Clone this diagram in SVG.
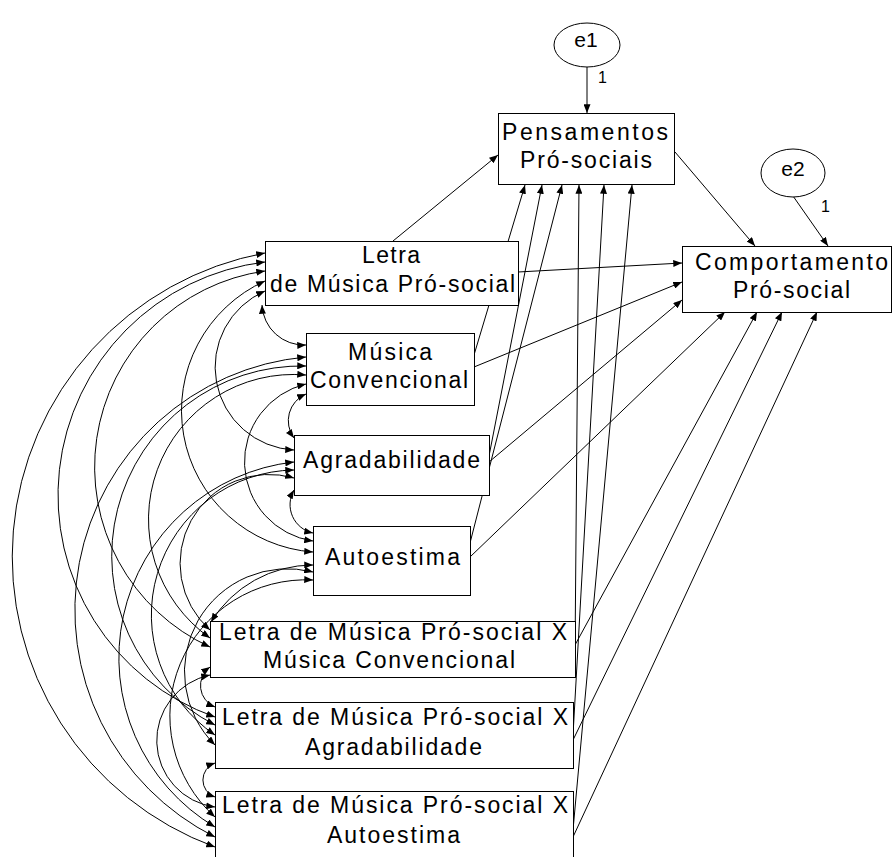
<svg xmlns="http://www.w3.org/2000/svg" width="892" height="857" viewBox="0 0 892 857">
<style>
.b{fill:#fff;stroke:#000;stroke-width:1}
.l{fill:none;stroke:#000;stroke-width:1}
.t{font-family:"Liberation Sans",Arial,sans-serif;font-size:23px;fill:#000}
.e{font-family:"Liberation Sans",Arial,sans-serif;font-size:21px;fill:#000;text-anchor:middle}
.s{font-family:"Liberation Sans",Arial,sans-serif;font-size:16px;fill:#000}
</style>
<defs>
<marker id="ah" viewBox="0 0 10 8" refX="10" refY="4" markerWidth="9" markerHeight="7" markerUnits="userSpaceOnUse" orient="auto-start-reverse"><path d="M0,0 L10,4 L0,8 z" fill="#000"/></marker>
</defs>
<rect width="892" height="857" fill="#fff"/>
<g id="connectors">
<g class="cov">
<path class="l" d="M265,253 A309,309 0 0 0 215,847" marker-start="url(#ah)" marker-end="url(#ah)"/>
<path class="l" d="M265,262 A235,235 0 0 0 215,717" marker-start="url(#ah)" marker-end="url(#ah)"/>
<path class="l" d="M265,271 A198,198 0 0 0 210,647" marker-start="url(#ah)" marker-end="url(#ah)"/>
<path class="l" d="M265,281 A142,142 0 0 0 313,552" marker-start="url(#ah)" marker-end="url(#ah)"/>
<path class="l" d="M265,291 A83,83 0 0 0 294,450" marker-start="url(#ah)" marker-end="url(#ah)"/>
<path class="l" d="M262,305 A42,42 0 0 0 306,345" marker-start="url(#ah)" marker-end="url(#ah)"/>
<path class="l" d="M306,357 A254,254 0 0 0 215,837" marker-start="url(#ah)" marker-end="url(#ah)"/>
<path class="l" d="M306,366 A190,190 0 0 0 215,725" marker-start="url(#ah)" marker-end="url(#ah)"/>
<path class="l" d="M306,375 A145,145 0 0 0 210,638" marker-start="url(#ah)" marker-end="url(#ah)"/>
<path class="l" d="M306,384 A80,80 0 0 0 313,541" marker-start="url(#ah)" marker-end="url(#ah)"/>
<path class="l" d="M306,394 A29,29 0 0 0 294,438" marker-start="url(#ah)" marker-end="url(#ah)"/>
<path class="l" d="M294,462 A197,197 0 0 0 215,827" marker-start="url(#ah)" marker-end="url(#ah)"/>
<path class="l" d="M294,470 A145,145 0 0 0 215,735" marker-start="url(#ah)" marker-end="url(#ah)"/>
<path class="l" d="M294,478 A89,89 0 0 0 210,630" marker-start="url(#ah)" marker-end="url(#ah)"/>
<path class="l" d="M294,490 A29,29 0 0 0 313,533" marker-start="url(#ah)" marker-end="url(#ah)"/>
<path class="l" d="M313,580 A136,136 0 0 0 215,817" marker-start="url(#ah)" marker-end="url(#ah)"/>
<path class="l" d="M313,572 A103,103 0 0 0 215,745" marker-start="url(#ah)" marker-end="url(#ah)"/>
<path class="l" d="M313,565 A120,120 0 0 0 211,622" marker-start="url(#ah)" marker-end="url(#ah)"/>
<path class="l" d="M210,675 A67,67 0 0 0 215,807" marker-start="url(#ah)" marker-end="url(#ah)"/>
<path class="l" d="M210,667 A23,23 0 0 0 215,707" marker-start="url(#ah)" marker-end="url(#ah)"/>
<path class="l" d="M215,763 A18,18 0 0 0 215,797" marker-start="url(#ah)" marker-end="url(#ah)"/>
</g>
<g class="paths">
<line class="l" x1="587" y1="67" x2="587" y2="113" marker-end="url(#ah)"/>
<line class="l" x1="793" y1="196" x2="828" y2="246" marker-end="url(#ah)"/>
<line class="l" x1="393" y1="241" x2="498" y2="155" marker-end="url(#ah)"/>
<line class="l" x1="474" y1="355" x2="525" y2="185" marker-end="url(#ah)"/>
<line class="l" x1="489" y1="456" x2="542" y2="185" marker-end="url(#ah)"/>
<line class="l" x1="470" y1="543" x2="562" y2="185" marker-end="url(#ah)"/>
<line class="l" x1="575" y1="655" x2="579" y2="185" marker-end="url(#ah)"/>
<line class="l" x1="573" y1="735" x2="604" y2="185" marker-end="url(#ah)"/>
<line class="l" x1="573" y1="830" x2="632" y2="185" marker-end="url(#ah)"/>
<line class="l" x1="675" y1="152" x2="755" y2="246" marker-end="url(#ah)"/>
<line class="l" x1="518" y1="272" x2="682" y2="263" marker-end="url(#ah)"/>
<line class="l" x1="474" y1="367" x2="682" y2="282" marker-end="url(#ah)"/>
<line class="l" x1="489" y1="462" x2="682" y2="300" marker-end="url(#ah)"/>
<line class="l" x1="470" y1="557" x2="725" y2="312" marker-end="url(#ah)"/>
<line class="l" x1="575" y1="645" x2="757" y2="312" marker-end="url(#ah)"/>
<line class="l" x1="573" y1="740" x2="782" y2="312" marker-end="url(#ah)"/>
<line class="l" x1="573" y1="837" x2="817" y2="312" marker-end="url(#ah)"/>
</g>
<text class="s" x="598" y="83">1</text>
<text class="s" x="821" y="212">1</text>
</g>
<g id="e1">
<ellipse class="b" cx="587" cy="45" rx="33" ry="22"/>
<text class="e" x="586" y="47">e1</text>
</g>
<g id="e2">
<ellipse class="b" cx="793" cy="173" rx="32" ry="24"/>
<text class="e" x="793" y="176">e2</text>
</g>
<g id="pensamentos">
<rect class="b" x="498.5" y="113.5" width="176" height="71"/>
<text class="t" x="502" y="140" textLength="166" lengthAdjust="spacing">Pensamentos</text>
<text class="t" x="520" y="168" textLength="132" lengthAdjust="spacing">Pró-sociais</text>
</g>
<g id="comportamento">
<rect class="b" x="682.5" y="246.5" width="209" height="66"/>
<text class="t" x="695" y="270" textLength="193" lengthAdjust="spacing">Comportamento</text>
<text class="t" x="733" y="298" textLength="117" lengthAdjust="spacing">Pró-social</text>
</g>
<g id="letra">
<rect class="b" x="265.5" y="241.5" width="253" height="64"/>
<text class="t" x="362" y="263" textLength="58" lengthAdjust="spacing">Letra</text>
<text class="t" x="270" y="292" textLength="245" lengthAdjust="spacing">de Música Pró-social</text>
</g>
<g id="musica">
<rect class="b" x="306.5" y="333.5" width="168" height="72"/>
<text class="t" x="348" y="360" textLength="84" lengthAdjust="spacing">Música</text>
<text class="t" x="310" y="388" textLength="158" lengthAdjust="spacing">Convencional</text>
</g>
<g id="agradabilidade">
<rect class="b" x="294.5" y="435.5" width="195" height="60"/>
<text class="t" x="303" y="468" textLength="177" lengthAdjust="spacing">Agradabilidade</text>
</g>
<g id="autoestima">
<rect class="b" x="313.5" y="526.5" width="157" height="69"/>
<text class="t" x="325" y="565" textLength="135" lengthAdjust="spacing">Autoestima</text>
</g>
<g id="lxmc">
<rect class="b" x="210.5" y="621.5" width="365" height="56"/>
<text class="t" x="219" y="640" textLength="348" lengthAdjust="spacing">Letra de Música Pró-social X</text>
<text class="t" x="263" y="668" textLength="252" lengthAdjust="spacing">Música Convencional</text>
</g>
<g id="lxa">
<rect class="b" x="215.5" y="702.5" width="358" height="66"/>
<text class="t" x="222" y="725" textLength="346" lengthAdjust="spacing">Letra de Música Pró-social X</text>
<text class="t" x="305" y="755" textLength="177" lengthAdjust="spacing">Agradabilidade</text>
</g>
<g id="lxaut">
<rect class="b" x="215.5" y="791.5" width="358" height="70"/>
<text class="t" x="222" y="813" textLength="346" lengthAdjust="spacing">Letra de Música Pró-social X</text>
<text class="t" x="327" y="843" textLength="133" lengthAdjust="spacing">Autoestima</text>
</g>
</svg>
